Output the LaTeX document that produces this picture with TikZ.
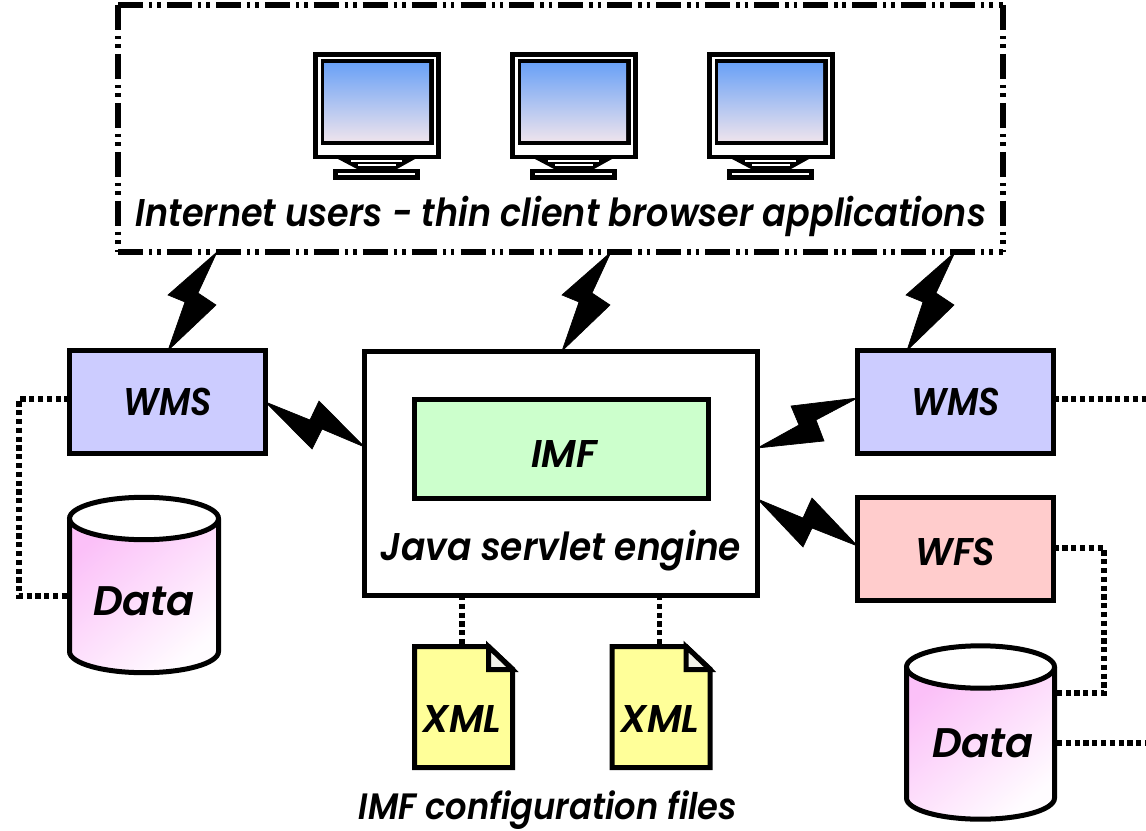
\documentclass[tikz,border=0pt]{standalone}
\usepackage{fontspec}
\usepackage{graphicx}
\setmainfont{Poppins}[BoldFont={Poppins SemiBold},BoldItalicFont={Poppins SemiBold Italic}]
\usetikzlibrary{calc}
\definecolor{wmsfill}{HTML}{CCCCFF}
\definecolor{imffill}{HTML}{CCFFCC}
\definecolor{wfsfill}{HTML}{FFCCCC}
\definecolor{xmlfill}{HTML}{FFFF99}
\definecolor{foldfill}{HTML}{F2F2EA}
\definecolor{screentop}{HTML}{6CA2F6}
\definecolor{screenbot}{HTML}{EDE3EC}
\definecolor{cyltop}{HTML}{FBC0F8}
\definecolor{cylbot}{HTML}{FFFCFF}
\tikzset{
  x=0.75pt,y=-0.75pt,
  thick line/.style={line width=3.75pt,draw=black},
  boxnode/.style={thick line,rectangle,inner sep=0pt,outer sep=0pt,font=\labelfont},
  lab/.style={inner sep=0pt,outer sep=0pt,anchor=base,font=\labelfont},
  ghost/.style={rectangle,inner sep=0pt,outer sep=0pt},
  dots/.style={line width=3.9pt,draw=black,dash pattern=on 3.9pt off 2.7pt},
  dashdots/.style={line width=3.9pt,draw=black,dash pattern=on 18.75pt off 4.5pt on 2.6pt off 3.7pt on 2.6pt off 4.55pt},
  bolt/.style={fill=black,draw=black,line width=0.5pt,line join=miter},
}
\newcommand{\labelfont}{\fontsize{29}{32}\selectfont\bfseries\itshape}
\newcommand{\fit}[2]{\scalebox{#1}[1]{#2}}
\newcommand{\boltdown}[2]{\path[bolt] (#1) -- ($(#1)+(-19,41)$) -- ($(#1)+(-1,53)$) -- (#2) -- ($(#1)+(-32,50)$) -- ($(#1)+(-49,43)$) -- cycle;}
\newcommand{\cylshape}[4]{%
  \shade[top color=cyltop,bottom color=cylbot,shading angle=40]
    ({#1-#4},#2) -- ({#1-#4},#3) arc[start angle=180,end angle=360,x radius=#4*0.75pt,y radius=15.9pt] -- ({#1+#4},#2) -- cycle;
  \draw[thick line,fill=white] (#1,#2) ellipse[x radius=#4*0.75pt,y radius=15.9pt];
  \draw[thick line] ({#1-#4},#2) -- ({#1-#4},#3) arc[start angle=180,end angle=360,x radius=#4*0.75pt,y radius=15.9pt] -- ({#1+#4},#2);
}
\newcommand{\docshape}[1]{%
  \draw[thick line,fill=xmlfill,line join=miter] ({#1},646.5) -- ({#1+74},646.5) -- ({#1+98},669) -- ({#1+98},767.5) -- ({#1},767.5) -- cycle;
  \draw[thick line,fill=foldfill,line join=miter] ({#1+74},646.5) -- ({#1+74},669.5) -- ({#1+98},669.5) -- cycle;
}
\begin{document}
\begin{tikzpicture}
\useasboundingbox (0,0) rectangle (1146,831);
\fill[white] (0,0) rectangle (1146,831);

% users panel
\node[ghost,minimum width=885*0.75pt,minimum height=247*0.75pt] (users) at (560.5,128.5) {};
\draw[dashdots] (users.north west) -- (users.north east);
\draw[dashdots] (users.south west) -- (users.south east);
\draw[dashdots] (users.north west) -- (users.south west);
\draw[dashdots] (users.north east) -- (users.south east);
\node[lab] (userslabel) at (561,227) {\fit{.905}{Internet users - thin client browser applications}};

% monitors
\foreach \dx in {0,197,394}{
\begin{scope}[shift={(\dx,0)}]
  \fill[black] (313,52) rectangle (441,159);
  \fill[white] (318,57) rectangle (436,155);
  \fill[black] (320.5,59.5) rectangle (434,145);
  \shade[top color=screentop,bottom color=screenbot] (324,64) rectangle (429,141);
  \fill[black] (338,159) -- (415,159) -- (397,169) -- (357,169) -- cycle;
  \fill[white] (351,160) rectangle (402,162);
  \fill[white] (358,164) -- (396,164) -- (396,166) -- (358,166) -- cycle;
  \fill[black] (333,169) rectangle (420,180);
  \fill[white] (338,173) rectangle (415,175);
\end{scope}
}

% boxes
\node[boxnode,fill=wmsfill,minimum width=196*0.75pt,minimum height=103*0.75pt] (wmsl) at (167.5,402) {\fit{.9}{WMS}};
\node[boxnode,fill=white,minimum width=393*0.75pt,minimum height=244*0.75pt] (engine) at (561,473) {};
\node[boxnode,fill=imffill,minimum width=294*0.75pt,minimum height=99*0.75pt] (imf) at (561.5,449) {};
\node[lab] (imflabel) at (564,467) {IMF};
\node[lab] (enginelabel) at (561,560) {\fit{.93}{Java servlet engine}};
\node[boxnode,fill=wmsfill,minimum width=196*0.75pt,minimum height=103*0.75pt] (wmsr) at (955.5,402) {\fit{.9}{WMS}};
\node[boxnode,fill=wfsfill,minimum width=196*0.75pt,minimum height=103*0.75pt] (wfs) at (955.5,549) {};
\node[lab] (wfslabel) at (955.5,565) {\fit{.95}{WFS}};

% cylinders
\cylshape{144}{518.5}{651.5}{74.5}
\cylshape{980.5}{667}{798}{74}
\node[ghost,minimum width=153*0.75pt,minimum height=180*0.75pt] (datal) at (144,585) {};
\node[ghost,minimum width=153*0.75pt,minimum height=179*0.75pt] (datar) at (980.5,732.5) {};
\node[lab,font=\fontsize{31}{33}\selectfont\bfseries\itshape] (datallabel) at (144,615) {Data};
\node[lab,font=\fontsize{31}{33}\selectfont\bfseries\itshape] (datarlabel) at (983,757) {Data};

% documents
\docshape{414.5}
\docshape{612}
\node[ghost,minimum width=98*0.75pt,minimum height=121*0.75pt] (xmla) at (463.5,707) {};
\node[ghost,minimum width=98*0.75pt,minimum height=121*0.75pt] (xmlb) at (661,707) {};
\node[lab] (xmlalabel) at (462,732) {XML};
\node[lab] (xmlblabel) at (660,732) {XML};
\node[lab,font=\fontsize{27.5}{30}\selectfont\bfseries\itshape] (configlabel) at (548,819) {\fit{.92}{IMF configuration files}};

% dotted connectors
\coordinate (lefttop) at (19,399);
\coordinate (leftbot) at (19,596);
\coordinate (wfsturn1) at (1104,548);
\coordinate (wfsturn2) at (1104,693);
\coordinate (edgea) at (1146,399);
\coordinate (edgeb) at (1146,743);
\draw[dots] (wmsl.west |- lefttop) -- (lefttop) -- (leftbot) -- (datal.west |- leftbot);
\draw[dots] (wmsr.east |- edgea) -- (edgea);
\draw[dots] (wfs.east |- wfsturn1) -- (wfsturn1) -- (wfsturn2) -- (datar.east |- wfsturn2);
\draw[dots] (datar.east |- edgeb) -- (edgeb);
\draw[dots] ([xshift=-1.5*0.75pt]xmla.north |- engine.south) -- ([xshift=-1.5*0.75pt]xmla.north);
\draw[dots] ([xshift=-1.5*0.75pt]xmlb.north |- engine.south) -- ([xshift=-1.5*0.75pt]xmlb.north);

% lightning connectors
\coordinate (b1t) at (users.south -| 217,0);
\coordinate (b1b) at (wmsl.north -| 168,0);
\coordinate (b2t) at (users.south -| 611,0);
\coordinate (b2b) at (engine.north -| 562,0);
\coordinate (b3t) at (users.south -| 955,0);
\coordinate (b3b) at (wmsr.north -| 907,0);
\boltdown{b1t}{b1b}
\boltdown{b2t}{b2b}
\boltdown{b3t}{b3b}
\coordinate (c1a) at (wmsl.east |- 0,402);
\coordinate (c1b) at (engine.west |- 0,447);
\path[bolt] (c1a) -- (310,420) -- (319,401) -- (c1b) -- (322,429) -- (312,449) -- cycle;
\coordinate (c2a) at (wmsr.west |- 0,398);
\coordinate (c2b) at (engine.east |- 0,448);
\path[bolt] (c2a) -- (791,406) -- (799,425) -- (c2b) -- (824,441) -- (816,420) -- cycle;
\coordinate (c3a) at (engine.east |- 0,499);
\coordinate (c3b) at (wfs.west |- 0,546);
\path[bolt] (c3a) -- (803,518) -- (812,498) -- (c3b) -- (812,528) -- (803,547) -- cycle;
\end{tikzpicture}
\end{document}
